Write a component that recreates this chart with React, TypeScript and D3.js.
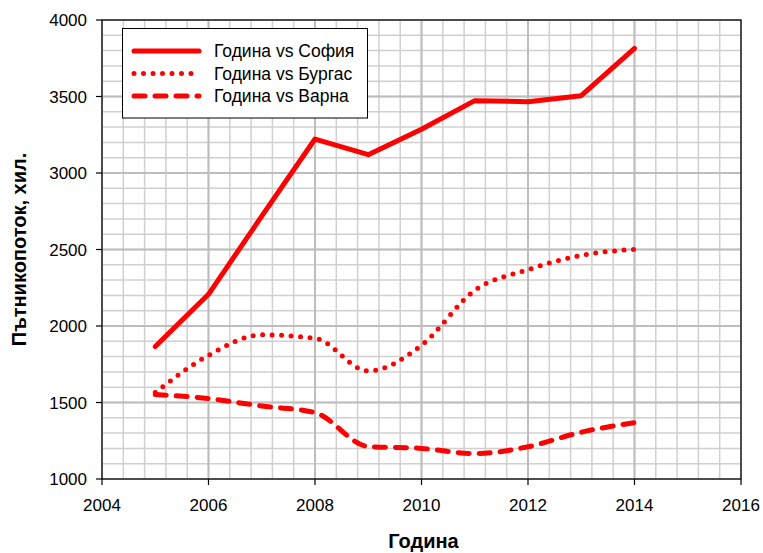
import React from "react";
import * as d3 from "d3";

const years = [2005, 2006, 2007, 2008, 2009, 2010, 2011, 2012, 2013, 2014];
const sofia = [1866, 2207, 2718, 3222, 3120, 3286, 3473, 3466, 3505, 3815];
const burgas = [1565, 1808, 1942, 1920, 1706, 1874, 2233, 2368, 2462, 2501];
const varna = [1552, 1526, 1477, 1434, 1212, 1200, 1166, 1211, 1306, 1368];

const xTicks = [2004, 2006, 2008, 2010, 2012, 2014, 2016];
const yTicks = [1000, 1500, 2000, 2500, 3000, 3500, 4000];
const legendLabels = ["Година vs София", "Година vs Бургас", "Година vs Варна"];

const W = 763, H = 553;
const L = 102, R = 741, T = 20, B = 479;

export default function App() {
  const x = d3.scaleLinear().domain([2004, 2016]).range([L, R]);
  const y = d3.scaleLinear().domain([1000, 4000]).range([B, T]);
  const xMinor = d3.range(2004, 2016.001, 0.4);
  const yMinor = d3.range(1000, 4000.001, 100);

  const lineStraight = d3.line<number>().x((_, i) => x(years[i])).y((d) => y(d));
  const lineSmooth = d3
    .line<number>()
    .x((_, i) => x(years[i]))
    .y((d) => y(d))
    .curve(d3.curveMonotoneX);

  const red = "#ff0000";
  const font = "'Liberation Sans', Arial, sans-serif";

  const dashes: (string | undefined)[] = [undefined, "0 9.5", "11 10"];

  return (
    <svg width={W} height={H} style={{ position: "absolute", left: 0, top: 0 }} fontFamily={font}>
      <rect x={0} y={0} width={W} height={H} fill="#fff" />
      {xMinor.map((v, i) => (
        <line key={"xm" + i} x1={x(v)} x2={x(v)} y1={T} y2={B} stroke="#d0d0d0" strokeWidth={1.5} />
      ))}
      {yMinor.map((v, i) => (
        <line key={"ym" + i} x1={L} x2={R} y1={y(v)} y2={y(v)} stroke="#d0d0d0" strokeWidth={1.5} />
      ))}
      {xTicks.map((v) => (
        <line key={"xM" + v} x1={x(v)} x2={x(v)} y1={T} y2={B} stroke="#bdbdbd" strokeWidth={2} />
      ))}
      {yTicks.map((v) => (
        <line key={"yM" + v} x1={L} x2={R} y1={y(v)} y2={y(v)} stroke="#bdbdbd" strokeWidth={2} />
      ))}
      <rect x={L} y={T} width={R - L} height={B - T} fill="none" stroke="#000" strokeWidth={1.2} />
      {xTicks.map((v) => (
        <g key={"xt" + v}>
          <line x1={x(v)} x2={x(v)} y1={B} y2={B + 6} stroke="#000" strokeWidth={1.2} />
          <text x={x(v)} y={B + 32} textAnchor="middle" fontSize={17} fill="#000">
            {v}
          </text>
        </g>
      ))}
      {yTicks.map((v) => (
        <g key={"yt" + v}>
          <line x1={L - 6} x2={L} y1={y(v)} y2={y(v)} stroke="#000" strokeWidth={1.2} />
          <text x={L - 15} y={y(v) + 6} textAnchor="end" fontSize={17} fill="#000">
            {v}
          </text>
        </g>
      ))}
      <path d={lineSmooth(varna) || ""} fill="none" stroke={red} strokeWidth={5} strokeDasharray={dashes[2]} strokeLinecap="round" strokeLinejoin="round" />
      <path d={lineSmooth(burgas) || ""} fill="none" stroke={red} strokeWidth={5} strokeDasharray={dashes[1]} strokeLinecap="round" strokeLinejoin="round" />
      <path d={lineStraight(sofia) || ""} fill="none" stroke={red} strokeWidth={5} strokeLinecap="round" strokeLinejoin="round" />
      <rect x={122.5} y={28.5} width={245} height={89.5} fill="#fff" stroke="#000" strokeWidth={1} />
      {legendLabels.map((lab, i) => {
        const ly = 51 + i * 22.5;
        return (
          <g key={lab}>
            <line x1={134} x2={199} y1={ly} y2={ly} stroke={red} strokeWidth={5} strokeLinecap="round" strokeDasharray={dashes[i]} />
            <text x={214} y={ly + 6} fontSize={17.5} fill="#000">
              {lab}
            </text>
          </g>
        );
      })}
      <text x={(L + R) / 2 + 2} y={548} textAnchor="middle" fontSize={20} fontWeight="bold" fill="#000">
        Година
      </text>
      <text transform={`translate(26, ${(T + B) / 2}) rotate(-90)`} textAnchor="middle" fontSize={20} fontWeight="bold" fill="#000">
        Пътникопоток, хил.
      </text>
    </svg>
  );
}
